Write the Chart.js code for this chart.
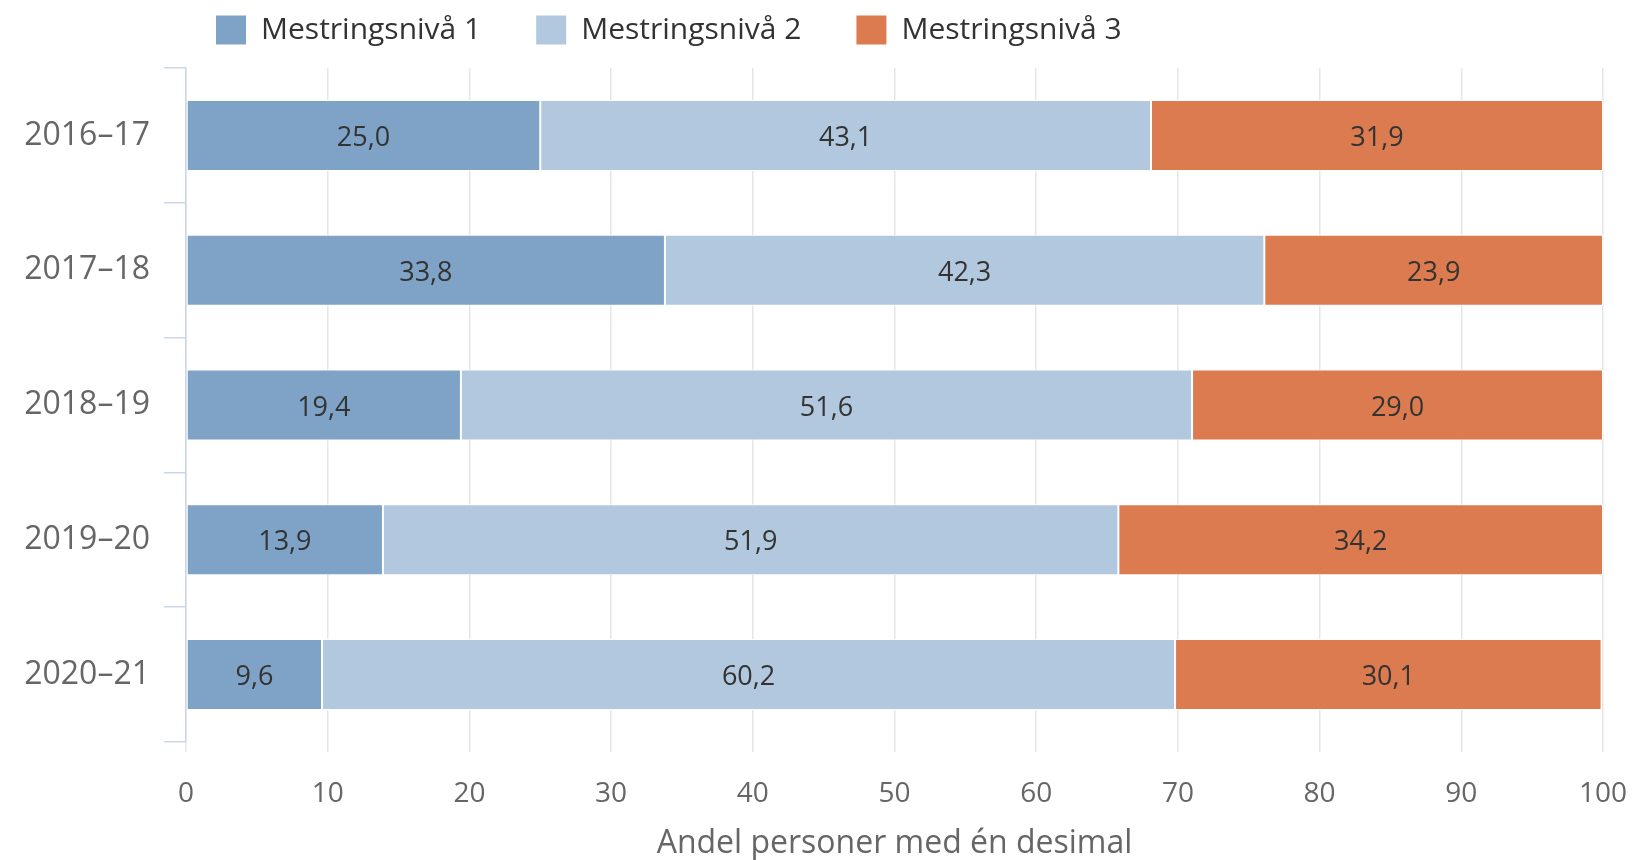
<!DOCTYPE html>
<html>
<head>
<meta charset="utf-8">
<script src="https://cdn.jsdelivr.net/npm/chart.js@4/dist/chart.umd.min.js"></script>
<style>
  body { margin: 0; background: #fff; }
  #wrap { width: 1638px; height: 860px; }
</style>
</head>
<body>
<div id="wrap"><canvas id="myChart" width="1638" height="860"></canvas></div>
<script>
const categories = ['2016–17', '2017–18', '2018–19', '2019–20', '2020–21']
const seriesNames = ['Mestringsnivå 1', 'Mestringsnivå 2', 'Mestringsnivå 3']
const level1 = [25.0, 33.8, 19.4, 13.9, 9.6]
const level2 = [43.1, 42.3, 51.6, 51.9, 60.2]
const level3 = [31.9, 23.9, 29.0, 34.2, 30.1]
const seriesColors = ['#7fa3c7', '#b2c8de', '#dd7b50']
const axisTitle = 'Andel personer med én desimal'

Chart.defaults.font.family = "'Open Sans', sans-serif"

function formatValue(v) {
  return v.toFixed(1).replace('.', ',')
}

// writes the value in the middle of each bar segment
const barValues = {
  id: 'barValues',
  afterDatasetsDraw(chart) {
    const ctx = chart.ctx
    ctx.save()
    ctx.font = "27px 'Open Sans'"
    ctx.fillStyle = '#333333'
    ctx.textAlign = 'center'
    ctx.textBaseline = 'middle'
    chart.data.datasets.forEach((dataset, i) => {
      chart.getDatasetMeta(i).data.forEach((bar, j) => {
        const p = bar.getCenterPoint()
        ctx.fillText(formatValue(dataset.data[j]), p.x, p.y + 3)
      })
    })
    ctx.restore()
  }
}

// legend sits left of centre in the original, move it there
const legendSpot = {
  id: 'legendSpot',
  afterLayout(chart) {
    const lg = chart.legend
    const pad = lg.options.labels.padding
    lg.left = 216 - pad
    lg.top = 15 - pad
  }
}

const datasets = [level1, level2, level3].map((values, i) => ({
  label: seriesNames[i],
  data: values,
  backgroundColor: seriesColors[i],
  borderColor: '#ffffff',
  borderWidth: 1,
  borderSkipped: false,
  categoryPercentage: 1,
  barPercentage: 0.527
}))

const chart = new Chart(document.getElementById('myChart'), {
  type: 'bar',
  data: { labels: categories, datasets: datasets },
  options: {
    responsive: false,
    devicePixelRatio: 1,
    animation: false,
    indexAxis: 'y',
    layout: { padding: 0 },
    scales: {
      x: {
        stacked: true,
        min: 0,
        max: 100,
        ticks: { stepSize: 10, color: '#666666', font: { size: 28 }, padding: 25 },
        grid: { color: '#e6e6e6', lineWidth: 1.5, drawTicks: true, tickLength: 10 },
        border: { display: false },
        title: {
          display: true,
          text: axisTitle,
          color: '#666666',
          font: { size: 32, lineHeight: 1 },
          padding: { top: 0, bottom: 0 }
        },
        afterFit(scale) {
          scale.height = 118
          scale.paddingRight = 35
        }
      },
      y: {
        stacked: true,
        ticks: { color: '#666666', font: { size: 32 }, padding: 14 },
        grid: { color: '#ccd6eb', drawOnChartArea: false, drawTicks: true, tickLength: 22, lineWidth: 1.5 },
        border: { color: '#ccd6eb', width: 1.5 },
        afterFit(scale) { scale.width = 186 }
      }
    },
    plugins: {
      legend: {
        position: 'top',
        align: 'start',
        maxHeight: 68,
        labels: {
          boxWidth: 30,
          boxHeight: 29,
          padding: 55,
          color: '#333333',
          font: { size: 30 },
          generateLabels(c) {
            return Chart.defaults.plugins.legend.labels.generateLabels(c).map(item => ({ ...item, lineWidth: 0 }))
          }
        }
      },
      tooltip: { enabled: false }
    }
  },
  plugins: [barValues, legendSpot]
})
</script>
</body>
</html>
